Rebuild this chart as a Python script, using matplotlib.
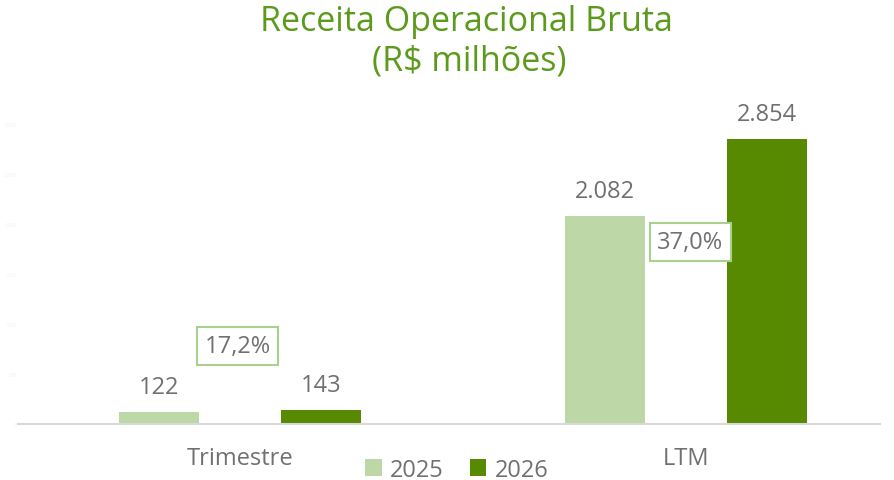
import matplotlib
matplotlib.use("Agg")
import matplotlib.pyplot as plt
import numpy as np

categories = ["Trimestre", "LTM"]
series_names = ["2025", "2026"]
values_2025 = [122, 2082]
values_2026 = [143, 2854]
value_labels_2025 = ["122", "2.082"]
value_labels_2026 = ["143", "2.854"]
growth_labels = ["17,2%", "37,0%"]
y_ticks = [0, 500, 1000, 1500, 2000, 2500, 3000]
y_tick_labels = ["0", "500", "1.000", "1.500", "2.000", "2.500", "3.000"]

plt.rcParams['font.family'] = ['Open Sans', 'DejaVu Sans']

W, H = 895, 481
fig = plt.figure(figsize=(W / 100, H / 100), dpi=100)
ax = fig.add_axes([18 / W, (H - 425) / H, (880 - 18) / W, 300 / H])

c_light = "#BDD7A6"
c_dark = "#578A00"
c_text = "#707070"

x = np.arange(len(categories))
w = 0.18
off = 0.181
ax.bar(x - off, values_2025, width=w, color=c_light, label=series_names[0])
ax.bar(x + off, values_2026, width=w, color=c_dark, label=series_names[1])

ax.set_ylim(0, 3000)
ax.set_xlim(-0.498, 1.435)

for xi, v, lab in zip(x - off, values_2025, value_labels_2025):
    ax.annotate(lab, (xi, v), xytext=(0, 9), textcoords="offset points",
                ha="center", va="bottom", fontsize=17, color=c_text)
for xi, v, lab in zip(x + off, values_2026, value_labels_2026):
    ax.annotate(lab, (xi, v), xytext=(0, 9), textcoords="offset points",
                ha="center", va="bottom", fontsize=17, color=c_text)

# growth boxes
growth_y = [780, 1820]
growth_x = [-0.006, 0.01]
for i, g in enumerate(growth_labels):
    ax.text(x[i] + growth_x[i], growth_y[i], g,
            ha="center", va="center", fontsize=17, color=c_text,
            bbox=dict(boxstyle="square,pad=0.3", fc="white", ec="#A9D18E", lw=1.5))

for s in ["top", "right", "left"]:
    ax.spines[s].set_visible(False)
ax.spines["bottom"].set_color("#D9D9D9")
ax.spines["bottom"].set_linewidth(1.5)
ax.set_yticks(y_ticks)
ax.set_yticklabels(y_tick_labels)
ax.tick_params(axis="y", length=0, labelcolor="#F2F2F2", labelsize=3.5, pad=1)
ax.set_xticks(x)
ax.set_xticklabels(categories, fontsize=17, color=c_text)
ax.tick_params(axis="x", length=0, pad=16)

leg = ax.legend(loc="center", bbox_to_anchor=(0.509, -0.152), ncol=2, frameon=False,
                fontsize=17, handlelength=0.7, handleheight=0.7, handletextpad=0.35,
                columnspacing=1.1, labelcolor=c_text, borderaxespad=0, borderpad=0)

fig.text(466 / W, 1 - 22 / H, "Receita Operacional Bruta", ha="center", va="center",
         fontsize=24.5, color="#5B9A1B")
fig.text(469 / W, 1 - 62 / H, "(R$ milhões)", ha="center", va="center",
         fontsize=24.5, color="#5B9A1B")

fig.savefig("out.png", dpi=100)
